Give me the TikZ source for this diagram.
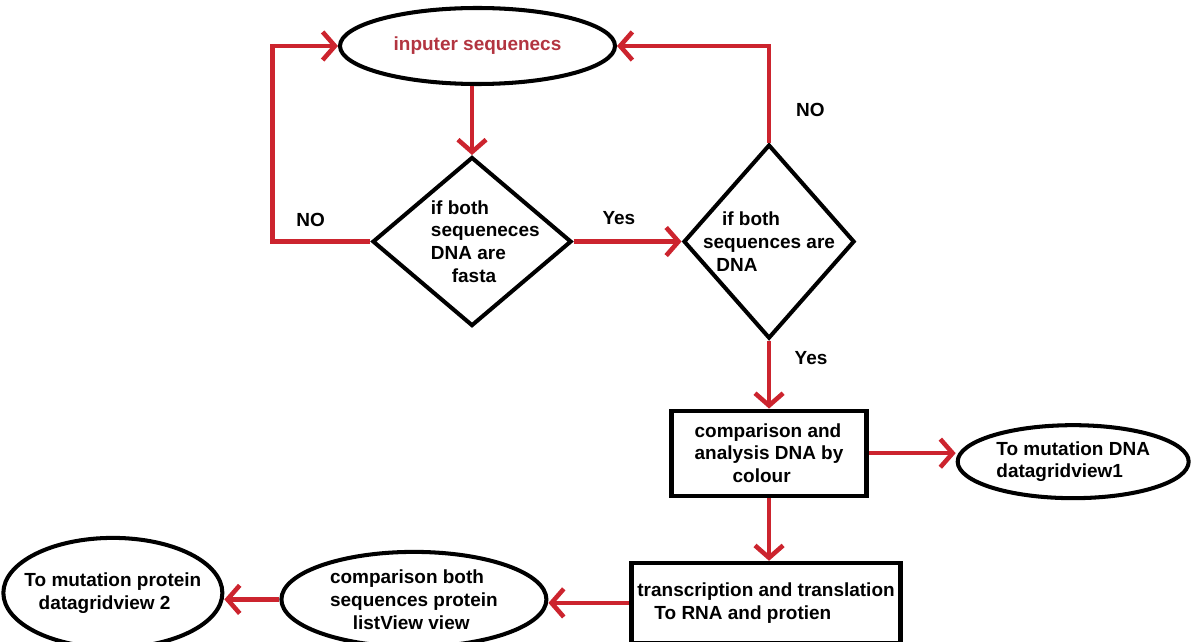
\documentclass[tikz,border=0pt]{standalone}
\usepackage{fontspec}
\setmainfont{Liberation Sans}
\usepackage{tikz}
\usetikzlibrary{shapes,arrows.meta}
\usetikzlibrary{positioning,calc}
\definecolor{flowred}{RGB}{204,36,46}
\definecolor{labelred}{RGB}{178,52,64}
\tikzstyle{arrow}=[draw=flowred, line width=2.6pt, -{Straight Barb[length=7pt,width=16pt]}]
\tikzstyle{oval}=[ellipse, draw, line width=2.3pt, inner sep=-8pt]
\tikzstyle{decision}=[diamond, draw, line width=2.3pt, inner sep=-10pt]
\tikzstyle{process}=[rectangle, draw, line width=2.4pt]

\begin{document}
\begin{tikzpicture}[
                every node/.style={font=\fontsize{10.8}{13}\selectfont\bfseries, align=left}
            ]

                \useasboundingbox (0,0) rectangle (23.88,-12.82);

                % Define Nodes
                \node (inp) [oval, minimum width=5.5cm, minimum height=1.52cm, text=labelred] at (9.55,-0.92) {inputer sequenecs};

                \node (dia1) [decision, minimum width=3.98cm, minimum height=3.38cm, below=1.38cm of inp, xshift=-0.11cm] {\hspace*{1.4em}if both\\\hspace*{1.4em}sequeneces\\\hspace*{1.4em}DNA are\\\hspace*{2.5em}fasta};

                \node (dia2) [decision, minimum width=3.42cm, minimum height=3.88cm, right=2.16cm of dia1] {\hspace*{1em}if both\\sequences are\\\hspace*{0.7em}DNA};

                \node (box1) [process, minimum width=3.9cm, minimum height=1.7cm, below=1.36cm of dia2] {comparison and\\analysis DNA by\\\hspace*{2em}colour};

                \node (ell2) [oval, minimum width=4.62cm, minimum height=1.46cm, right=1.74cm of box1, yshift=-0.17cm] {To mutation DNA\\datagridview1};

                \node (box2) [process, minimum width=5.26cm, minimum height=1.6cm, below=1.26cm of box1, xshift=-0.06cm] {transcription and translation\\\hspace*{0.9em}To RNA and protien};

                \node (ell4) [oval, minimum width=5.3cm, minimum height=1.9cm, left=1.62cm of box2, yshift=0.07cm] {comparison both\\sequences protein\\\hspace*{1.2em}listView view};

                \node (ell3) [oval, minimum width=4.38cm, minimum height=2.2cm, left=1.1cm of ell4, yshift=0.13cm] {To mutation protein\\\hspace*{0.75em}datagridview 2};

                % Draw Arrows
                \draw[arrow] (dia1.north |- inp.south) -- (dia1.north);
                \draw[arrow] (dia1.east) -- node[pos=0.42, above=0.17cm] (yes1) {Yes} (dia2.west);
                \draw[arrow] (dia2.south) -- node[pos=0.25, right=0.35cm] (yes2) {Yes} (box1.north);

                % Loops back to the input if not fasta / not DNA
                \draw[arrow] (dia1.west) -- node[pos=0.61, above=0.13cm] (no1) {NO} ++(-1.96,0) |- (inp.west);
                \draw[arrow] (dia2.north) |- node[pos=0.17, right=0.38cm] (no2) {NO} (inp.east);

                % Results
                \draw[arrow] (box1.east) -- (box1.east -| ell2.west);
                \draw[arrow] (box1.south) -- (box1.south |- box2.north);
                \draw[arrow] (box2.west) -- (box2.west -| ell4.east);
                \draw[arrow] (ell4.west) -- (ell4.west -| ell3.east);

            \end{tikzpicture}
\end{document}
